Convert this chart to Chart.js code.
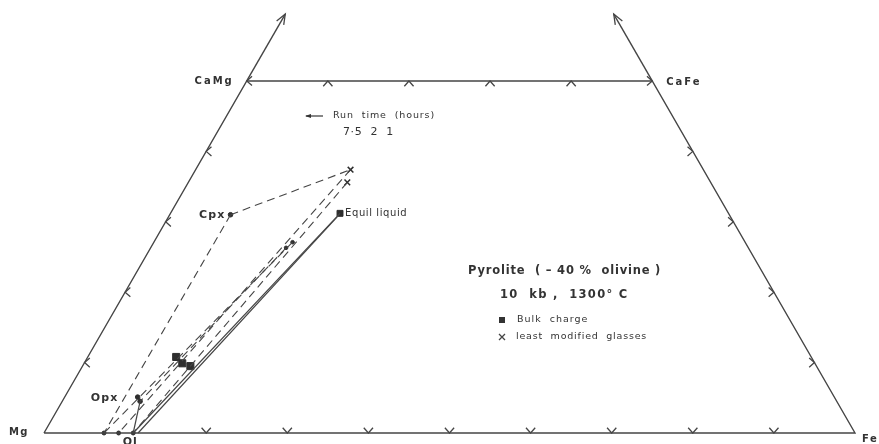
<!DOCTYPE html>
<html>
<head>
<meta charset="utf-8">
<script src="https://cdn.jsdelivr.net/npm/chart.js@4.4.1/dist/chart.umd.min.js"></script>
<style>
    html, body { margin: 0; padding: 0; background: #fff; }
    #wrap { width: 879px; height: 444px; }
</style>
</head>
<body>
<div id="wrap"><canvas id="quadChart" width="879" height="444"></canvas></div>
<script>
// every composition is [Ca, Fe] in mol %, Mg = 100 - Ca - Fe
const cornerMg = [0, 0];
const cornerFe = [0, 100];
const cornerCaFe = [50, 50];
const cornerCaMg = [50, 0];
const arrowCa = 59.5;

const cpx = [31.0, 7.5];
const opx = [5.1, 9.0];
const opxRim = [4.5, 9.6];
const olivine = [0, 11.0];
const equilLiquid = [31.2, 20.9];
const glasses = [[37.4, 19.1], [35.6, 19.6]];
const bulkCharge = [[10.8, 10.9], [9.9, 12.1], [9.5, 13.3]];
const runDots = [[27.1, 17.1], [26.3, 16.7]];
const baseDots = [[0, 7.4], [0, 9.2]];

const dashedTies = [
    [cpx, glasses[0]],
    [cpx, baseDots[0]],
    [glasses[0], baseDots[1]],
    [glasses[1], olivine],
    [runDots[0], baseDots[0]],
    [runDots[1], opxRim]
];
const solidTies = [
    [opxRim, olivine],
    [olivine, equilLiquid],
    [[0, 11.6], [30.7, 20.8]]
];

// tick marks along the quadrilateral edges
const baseTicksFe = [20, 30, 40, 50, 60, 70, 80, 90];
const topTicksFe = [10, 20, 30, 40];
const sideTicksCa = [10, 20, 30, 40, 50];

const INK = '#454545';
const SQ3 = Math.sqrt(3) / 2;

function toXY(c) {
    return { x: c[1] + c[0] / 2, y: c[0] * SQ3 };
}

function lineSet(a, b, dashed, width) {
    return {
        data: [toXY(a), toXY(b)],
        showLine: true,
        borderColor: INK,
        borderWidth: width || 1,
        borderDash: dashed ? [8, 5] : [],
        pointRadius: 0
    };
}

function pointSet(list, style, radius, extra) {
    return Object.assign({
        data: list.map(toXY),
        showLine: false,
        pointStyle: style,
        pointRadius: radius,
        backgroundColor: '#2e2e2e',
        borderColor: '#2e2e2e',
        borderWidth: 1
    }, extra || {});
}

const datasets = [];
// frame
datasets.push({
    data: [cornerMg, cornerFe, cornerCaFe, cornerCaMg, cornerMg].map(toXY),
    showLine: true, borderColor: INK, borderWidth: 1.4, pointRadius: 0
});
datasets.push(lineSet(cornerCaMg, [arrowCa, 0], false, 1.4));
datasets.push(lineSet(cornerCaFe, [arrowCa, 100 - arrowCa], false, 1.4));
dashedTies.forEach(t => datasets.push(lineSet(t[0], t[1], true, 1.1)));
solidTies.forEach(t => datasets.push(lineSet(t[0], t[1], false, 1.2)));
datasets.push(pointSet([cpx, opx, opxRim], 'circle', 2.3));
datasets.push(pointSet([olivine].concat(baseDots), 'circle', 2));
datasets.push(pointSet(runDots, 'circle', 1.8));
datasets.push(pointSet([equilLiquid], 'rect', 4.2));
datasets.push(pointSet(bulkCharge, 'rect', 5));
datasets.push(pointSet(glasses, 'crossRot', 4, { borderWidth: 1.5 }));

// chevron ticks, axis arrows and all text
const decorPlugin = {
    id: 'decor',
    afterDatasetsDraw(chart) {
        const ctx = chart.ctx;
        const xs = chart.scales.x, ys = chart.scales.y;
        const px = c => { const p = toXY(c); return [xs.getPixelForValue(p.x), ys.getPixelForValue(p.y)]; };

        ctx.save();
        ctx.strokeStyle = INK;
        ctx.lineWidth = 1.3;

        function chevron(c, dx, dy) {
            const [x, y] = px(c);
            const L = 7, a = 0.72;
            ctx.beginPath();
            ctx.moveTo(x + L * (dx * Math.cos(a) - dy * Math.sin(a)), y + L * (dx * Math.sin(a) + dy * Math.cos(a)));
            ctx.lineTo(x, y);
            ctx.lineTo(x + L * (dx * Math.cos(-a) - dy * Math.sin(-a)), y + L * (dx * Math.sin(-a) + dy * Math.cos(-a)));
            ctx.stroke();
        }
        baseTicksFe.forEach(f => chevron([0, f], 0, -1));
        topTicksFe.forEach(f => chevron([50, f], 0, 1));
        sideTicksCa.forEach(c => chevron([c, 0], 1, 0));
        sideTicksCa.forEach(c => chevron([c, 100 - c], -1, 0));

        function arrowHead(from, to) {
            const [x0, y0] = px(from), [x1, y1] = px(to);
            const ang = Math.atan2(y1 - y0, x1 - x0);
            const L = 11, s = 0.38;
            ctx.beginPath();
            ctx.moveTo(x1 - L * Math.cos(ang - s), y1 - L * Math.sin(ang - s));
            ctx.lineTo(x1, y1);
            ctx.lineTo(x1 - L * Math.cos(ang + s), y1 - L * Math.sin(ang + s));
            ctx.stroke();
        }
        arrowHead(cornerCaMg, [arrowCa, 0]);
        arrowHead(cornerCaFe, [arrowCa, 100 - arrowCa]);

        ctx.fillStyle = '#333';
        ctx.textBaseline = 'middle';
        function label(text, x, y, font, align, spacing) {
            ctx.font = font;
            ctx.textAlign = align || 'left';
            ctx.letterSpacing = (spacing || 0) + 'px';
            ctx.fillText(text, x, y);
        }
        const F = '"DejaVu Sans", sans-serif';
        let p;
        p = px(cornerMg); label('Mg', p[0] - 15, p[1] - 1, 'bold 10px ' + F, 'right', 1.5);
        p = px(cornerFe); label('Fe', p[0] + 7, p[1] + 6, 'bold 10px ' + F, 'left', 1.5);
        p = px(cornerCaMg); label('CaMg', p[0] - 13, p[1], 'bold 10px ' + F, 'right', 2);
        p = px(cornerCaFe); label('CaFe', p[0] + 14, p[1] + 1, 'bold 10px ' + F, 'left', 2);
        p = px(cpx); label('Cpx', p[0] - 5, p[1], 'bold 11px ' + F, 'right', 1.2);
        p = px(opx); label('Opx', p[0] - 19, p[1] + 1, 'bold 11px ' + F, 'right', 1.2);
        p = px(olivine); label('Ol', p[0] - 3, p[1] + 9, 'bold 11px ' + F, 'center', 1);
        p = px(equilLiquid); label('Equil liquid', p[0] + 5, p[1], '10px ' + F, 'left', 0.6);

        // run time annotation
        ctx.beginPath();
        ctx.moveTo(323, 116);
        ctx.lineTo(306, 116);
        ctx.stroke();
        ctx.beginPath();
        ctx.moveTo(305, 116);
        ctx.lineTo(311, 114);
        ctx.lineTo(311, 118);
        ctx.closePath();
        ctx.fill();
        label('Run  time  (hours)', 333, 116, '9.5px ' + F, 'left', 0.9);
        label('7\u00b75  2  1', 343, 132, '11px ' + F, 'left', 0.6);

        label('Pyrolite  ( \u2013 40 %  olivine )', 468, 271, 'bold 11.5px ' + F, 'left', 0.8);
        label('10  kb ,  1300\u00b0 C', 500, 295, 'bold 11.5px ' + F, 'left', 1.3);
        ctx.fillRect(499, 317, 6, 6);
        label('Bulk  charge', 517, 320, '9.5px ' + F, 'left', 1);
        ctx.lineWidth = 1.3;
        ctx.beginPath();
        ctx.moveTo(499, 334); ctx.lineTo(505, 340);
        ctx.moveTo(505, 334); ctx.lineTo(499, 340);
        ctx.stroke();
        label('least  modified  glasses', 516, 337, '9.5px ' + F, 'left', 0.8);
        ctx.restore();
    }
};

new Chart(document.getElementById('quadChart'), {
    type: 'scatter',
    data: { datasets: datasets },
    options: {
        responsive: false,
        animation: false,
        events: [],
        layout: { padding: 0, autoPadding: false },
        plugins: { legend: { display: false }, tooltip: { enabled: false } },
        scales: {
            x: { type: 'linear', min: -5.425, max: 102.96, display: false },
            y: { type: 'linear', min: -1.353, max: 53.26, display: false }
        }
    },
    plugins: [decorPlugin]
});
</script>
</body>
</html>
